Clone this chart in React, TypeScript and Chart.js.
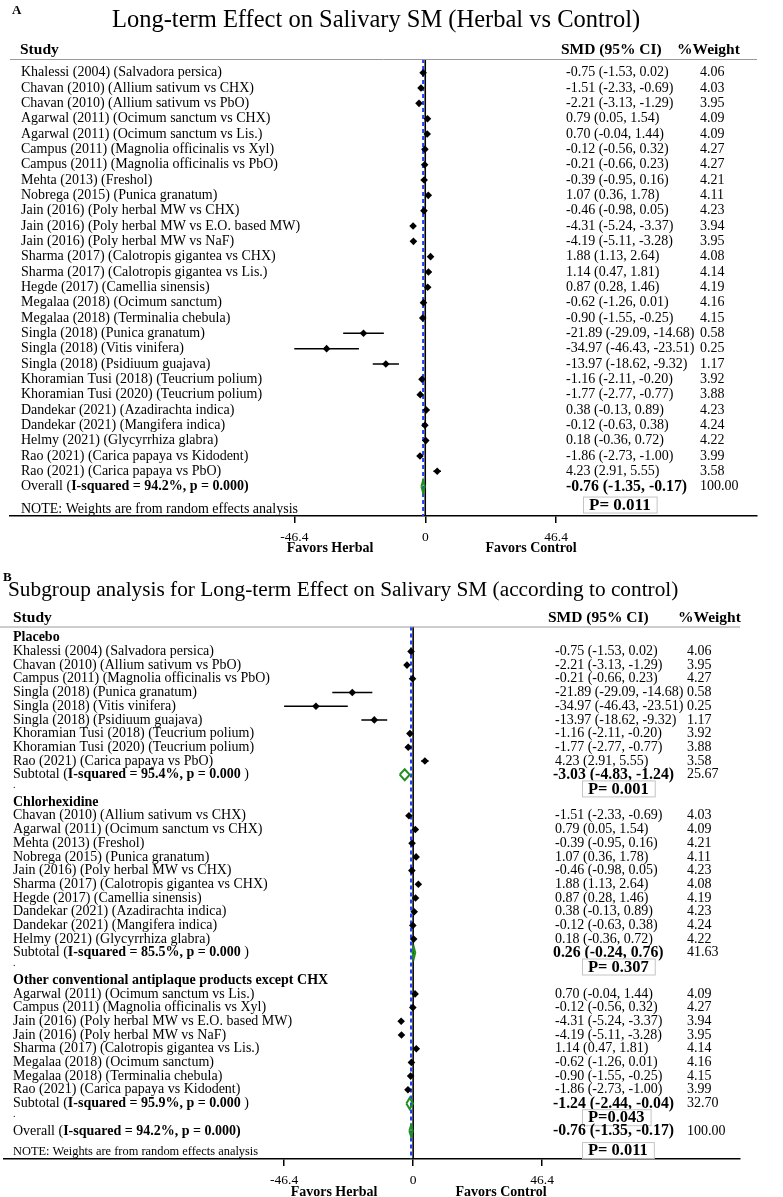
import React, { useEffect, useRef } from 'react';
import { Chart, registerables } from 'chart.js';

Chart.register(...registerables);

// ---------------- DATA ----------------
const STUDY_LABELS = [
  'Khalessi (2004) (Salvadora persica)',
  'Chavan (2010) (Allium sativum vs CHX)',
  'Chavan (2010) (Allium sativum vs PbO)',
  'Agarwal (2011) (Ocimum sanctum vs CHX)',
  'Agarwal (2011) (Ocimum sanctum vs Lis.)',
  'Campus (2011) (Magnolia officinalis vs Xyl)',
  'Campus (2011) (Magnolia officinalis vs PbO)',
  'Mehta (2013) (Freshol)',
  'Nobrega (2015) (Punica granatum)',
  'Jain (2016) (Poly herbal MW vs CHX)',
  'Jain (2016) (Poly herbal MW vs E.O. based MW)',
  'Jain (2016) (Poly herbal MW vs NaF)',
  'Sharma (2017) (Calotropis gigantea vs CHX)',
  'Sharma (2017) (Calotropis gigantea vs Lis.)',
  'Hegde (2017) (Camellia sinensis)',
  'Megalaa (2018) (Ocimum sanctum)',
  'Megalaa (2018) (Terminalia chebula)',
  'Singla (2018) (Punica granatum)',
  'Singla (2018) (Vitis vinifera)',
  'Singla (2018) (Psidiuum guajava)',
  'Khoramian Tusi (2018) (Teucrium polium)',
  'Khoramian Tusi (2020) (Teucrium polium)',
  'Dandekar (2021) (Azadirachta indica)',
  'Dandekar (2021) (Mangifera indica)',
  'Helmy (2021) (Glycyrrhiza glabra)',
  'Rao (2021) (Carica papaya vs Kidodent)',
  'Rao (2021) (Carica papaya vs PbO)',
];
const SMD = [-0.75, -1.51, -2.21, 0.79, 0.7, -0.12, -0.21, -0.39, 1.07, -0.46, -4.31, -4.19, 1.88, 1.14, 0.87, -0.62, -0.9, -21.89, -34.97, -13.97, -1.16, -1.77, 0.38, -0.12, 0.18, -1.86, 4.23];
const CI_LOW = [-1.53, -2.33, -3.13, 0.05, -0.04, -0.56, -0.66, -0.95, 0.36, -0.98, -5.24, -5.11, 1.13, 0.47, 0.28, -1.26, -1.55, -29.09, -46.43, -18.62, -2.11, -2.77, -0.13, -0.63, -0.36, -2.73, 2.91];
const CI_HIGH = [0.02, -0.69, -1.29, 1.54, 1.44, 0.32, 0.23, 0.16, 1.78, 0.05, -3.37, -3.28, 2.64, 1.81, 1.46, 0.01, -0.25, -14.68, -23.51, -9.32, -0.2, -0.77, 0.89, 0.38, 0.72, -1.0, 5.55];
const WEIGHT = [4.06, 4.03, 3.95, 4.09, 4.09, 4.27, 4.27, 4.21, 4.11, 4.23, 3.94, 3.95, 4.08, 4.14, 4.19, 4.16, 4.15, 0.58, 0.25, 1.17, 3.92, 3.88, 4.23, 4.24, 4.22, 3.99, 3.58];

const OVERALL_SMD = -0.76;
const OVERALL_LOW = -1.35;
const OVERALL_HIGH = -0.17;
const OVERALL_WEIGHT = 100.0;
const OVERALL_I2 = '94.2%';
const OVERALL_P_HET = '0.000';
const OVERALL_P_TEST = 'P= 0.011';

const GROUP_NAMES = ['Placebo', 'Chlorhexidine', 'Other conventional antiplaque products except CHX'];
const GROUP_MEMBERS = [
  [0, 2, 6, 17, 18, 19, 20, 21, 26],
  [1, 3, 7, 8, 9, 12, 14, 22, 23, 24],
  [4, 5, 10, 11, 13, 15, 16, 25],
];
const SUB_SMD = [-3.03, 0.26, -1.24];
const SUB_LOW = [-4.83, -0.24, -2.44];
const SUB_HIGH = [-1.24, 0.76, -0.04];
const SUB_WEIGHT = [25.67, 41.63, 32.7];
const SUB_I2 = ['95.4%', '85.5%', '95.9%'];
const SUB_P_HET = ['0.000', '0.000', '0.000'];
const SUB_P_TEST = ['P= 0.001', 'P= 0.307', 'P=0.043'];

const X_TICKS = [-46.4, 0, 46.4];
const X_MIN = -147.2;
const X_MAX = 117.6;

// ---------------- STYLE / LAYOUT ----------------
const SERIF = '"Liberation Serif", "Times New Roman", serif';
const GREEN = '#1f8f1f';
const BLUE = '#2040ff';
const DIAMOND_H = 0.4;
const ROW_FONT = 14;
const HEAD_FONT = 15.5;
const POOLED_FONT = 15.8;

type Row = { kind: 'study' | 'group' | 'sub' | 'gap' | 'overall'; i: number };

type Layout = {
  height: number; padLeft: number; padRight: number; areaTop: number; areaBottom: number;
  row0: number; pitch: number; axisH: number;
  labelX: number; headerX: number; headY: number; smdHeadX: number; weightHeadX: number;
  smdX: number; smdBoldX: number; weightX: number;
  pBoxX: number; pFont: number; pDy: number;
  noteFont: number; noteDy: number;
  favHerbX: number; favCtrlX: number; favY: number;
  letter: string; letterX: number; letterY: number;
  title: string; titleX: number; titleY: number; titleFont: number;
  headerLineLeft: number;
};

const LAYOUT_A: Layout = {
  height: 563, padLeft: 10, padRight: 26, areaTop: 59, areaBottom: 516,
  row0: 72.7, pitch: 15.33, axisH: 30,
  labelX: 21, headerX: 20, headY: 50, smdHeadX: 561, weightHeadX: 677,
  smdX: 566, smdBoldX: 566, weightX: 700,
  pBoxX: 583, pFont: 17, pDy: 1.17,
  noteFont: 14, noteDy: 1.5,
  favHerbX: 330, favCtrlX: 531, favY: 548,
  letter: 'A', letterX: 12, letterY: 11,
  title: 'Long-term Effect on Salivary SM (Herbal vs Control)', titleX: 112, titleY: 21, titleFont: 24.5,
  headerLineLeft: 10,
};

const LAYOUT_B: Layout = {
  height: 634, padLeft: 0, padRight: 43, areaTop: 63.5, areaBottom: 596,
  row0: 74.7, pitch: 13.7, axisH: 30,
  labelX: 13, headerX: 13, headY: 55, smdHeadX: 548, weightHeadX: 678,
  smdX: 555, smdBoldX: 553, weightX: 687,
  pBoxX: 582, pFont: 16.5, pDy: 1.4,
  noteFont: 12.4, noteDy: 1.54,
  favHerbX: 334, favCtrlX: 501, favY: 629,
  letter: 'B', letterX: 3, letterY: 15,
  title: 'Subgroup analysis for Long-term Effect on Salivary SM (according to control)', titleX: 8, titleY: 27, titleFont: 21.3,
  headerLineLeft: 0,
};

const ROWS_A: Row[] = [
  ...STUDY_LABELS.map((_, i) => ({ kind: 'study' as const, i })),
  { kind: 'overall', i: 0 },
];
const ROWS_B: Row[] = (() => {
  const r: Row[] = [];
  GROUP_NAMES.forEach((_, g) => {
    r.push({ kind: 'group', i: g });
    GROUP_MEMBERS[g].forEach((i) => r.push({ kind: 'study', i }));
    r.push({ kind: 'sub', i: g });
    r.push({ kind: 'gap', i: g });
  });
  r.push({ kind: 'overall', i: 0 });
  return r;
})();

const font = (size: number, bold = false) => `${bold ? 'bold ' : ''}${size}px ${SERIF}`;
const fmt = (v: number) => v.toFixed(2);
const ciText = (es: number, lo: number, hi: number) => `${fmt(es)} (${fmt(lo)}, ${fmt(hi)})`;

function buildDatasets(rows: Row[], yMin: number, yMax: number) {
  const ci: any[] = [];
  const pts: any[] = [];
  const dia: any[] = [];
  rows.forEach((r, k) => {
    if (r.kind === 'study') {
      ci.push({ x: CI_LOW[r.i], y: k }, { x: CI_HIGH[r.i], y: k }, { x: null, y: null });
      pts.push({ x: SMD[r.i], y: k });
    } else if (r.kind === 'sub' || r.kind === 'overall') {
      const es = r.kind === 'sub' ? SUB_SMD[r.i] : OVERALL_SMD;
      const lo = r.kind === 'sub' ? SUB_LOW[r.i] : OVERALL_LOW;
      const hi = r.kind === 'sub' ? SUB_HIGH[r.i] : OVERALL_HIGH;
      dia.push(
        { x: lo, y: k }, { x: es, y: k - DIAMOND_H }, { x: hi, y: k }, { x: es, y: k + DIAMOND_H }, { x: lo, y: k },
        { x: null, y: null },
      );
    }
  });
  return [
    { data: pts, showLine: false, pointStyle: 'rectRot', pointRadius: 3.8, backgroundColor: '#000', borderWidth: 0 },
    { data: ci, showLine: true, borderColor: '#000', borderWidth: 1.5, pointRadius: 0, spanGaps: false },
    { data: dia, showLine: true, borderColor: GREEN, borderWidth: 2, pointRadius: 0, spanGaps: false, borderJoinStyle: 'miter' },
    { data: [{ x: 0, y: yMin }, { x: 0, y: yMax }], showLine: true, borderColor: '#000', borderWidth: 1.6, pointRadius: 0 },
    { data: [{ x: OVERALL_SMD, y: yMin }, { x: OVERALL_SMD, y: yMax }], showLine: true, borderColor: BLUE, borderDash: [4, 3], borderWidth: 2, pointRadius: 0 },
  ];
}

function makeTextPlugin(L: Layout, rows: Row[]) {
  return {
    id: 'forestText',
    afterDraw(chart: any) {
      const { ctx, chartArea } = chart;
      const y = chart.scales.y;
      ctx.save();
      ctx.textBaseline = 'middle';
      ctx.fillStyle = '#000';
      const text = (s: string, x: number, py: number, f: string, align: CanvasTextAlign = 'left') => {
        ctx.font = f;
        ctx.textAlign = align;
        ctx.fillText(s, x, py);
        return ctx.measureText(s).width;
      };
      const pBox = (s: string, py: number) => {
        ctx.font = font(L.pFont, true);
        const w = ctx.measureText(s).width + 12;
        const h = 16;
        ctx.fillStyle = '#fff';
        ctx.fillRect(L.pBoxX, py - h / 2, w, h);
        ctx.strokeStyle = '#c4c4c4';
        ctx.lineWidth = 1;
        ctx.strokeRect(L.pBoxX + 0.5, py - h / 2 + 0.5, w, h);
        ctx.fillStyle = '#000';
        text(s, L.pBoxX + w / 2, py + 1, font(L.pFont, true), 'center');
      };

      // header line
      ctx.strokeStyle = '#9a9a9a';
      ctx.lineWidth = 1;
      ctx.beginPath();
      ctx.moveTo(L.headerLineLeft, chartArea.top + 0.5);
      ctx.lineTo(chartArea.right, chartArea.top + 0.5);
      ctx.stroke();

      text(L.letter, L.letterX, L.letterY, font(13, true));
      text(L.title, L.titleX, L.titleY, font(L.titleFont));
      text('Study', L.headerX, L.headY, font(HEAD_FONT, true));
      text('SMD (95% CI)', L.smdHeadX, L.headY, font(HEAD_FONT, true));
      text('%Weight', L.weightHeadX, L.headY, font(HEAD_FONT, true));

      rows.forEach((r, k) => {
        const py = y.getPixelForValue(k);
        if (r.kind === 'study') {
          text(STUDY_LABELS[r.i], L.labelX, py, font(ROW_FONT));
          text(ciText(SMD[r.i], CI_LOW[r.i], CI_HIGH[r.i]), L.smdX, py, font(ROW_FONT));
          text(fmt(WEIGHT[r.i]), L.weightX, py, font(ROW_FONT));
        } else if (r.kind === 'group') {
          text(GROUP_NAMES[r.i], L.labelX, py, font(ROW_FONT, true));
        } else if (r.kind === 'sub') {
          let x = L.labelX;
          x += text('Subtotal (', x, py, font(ROW_FONT));
          x += text(`I-squared = ${SUB_I2[r.i]}, p = ${SUB_P_HET[r.i]}`, x, py, font(ROW_FONT, true));
          text(' )', x, py, font(ROW_FONT));
          text(ciText(SUB_SMD[r.i], SUB_LOW[r.i], SUB_HIGH[r.i]), L.smdBoldX, py, font(POOLED_FONT, true));
          text(fmt(SUB_WEIGHT[r.i]), L.weightX, py, font(ROW_FONT));
        } else if (r.kind === 'gap') {
          text('.', L.labelX, py - 3, font(10));
          pBox(SUB_P_TEST[r.i], py);
        } else if (r.kind === 'overall') {
          let x = L.labelX;
          x += text('Overall (', x, py, font(ROW_FONT));
          text(`I-squared = ${OVERALL_I2}, p = ${OVERALL_P_HET})`, x, py, font(ROW_FONT, true));
          text(ciText(OVERALL_SMD, OVERALL_LOW, OVERALL_HIGH), L.smdBoldX, py, font(POOLED_FONT, true));
          text(fmt(OVERALL_WEIGHT), L.weightX, py, font(ROW_FONT));
          text('NOTE: Weights are from random effects analysis', L.labelX, y.getPixelForValue(k + L.noteDy), font(L.noteFont));
          pBox(OVERALL_P_TEST, y.getPixelForValue(k + L.pDy));
        }
      });

      text('Favors Herbal', L.favHerbX, L.favY, font(14, true), 'center');
      text('Favors Control', L.favCtrlX, L.favY, font(14, true), 'center');
      ctx.restore();
    },
  };
}

function makeConfig(L: Layout, rows: Row[]): any {
  const yMin = (L.areaTop - L.row0) / L.pitch;
  const yMax = (L.areaBottom - L.row0) / L.pitch;
  return {
    type: 'scatter',
    data: { datasets: buildDatasets(rows, yMin, yMax) },
    options: {
      animation: false,
      responsive: false,
      maintainAspectRatio: false,
      devicePixelRatio: 1,
      events: [],
      layout: {
        padding: {
          top: L.areaTop,
          left: L.padLeft,
          right: L.padRight,
          bottom: L.height - L.areaBottom - L.axisH,
        },
      },
      plugins: { legend: { display: false }, tooltip: { enabled: false } },
      scales: {
        x: {
          type: 'linear',
          min: X_MIN,
          max: X_MAX,
          afterBuildTicks: (s: any) => {
            s.ticks = X_TICKS.map((v) => ({ value: v }));
          },
          afterFit: (s: any) => {
            s.height = L.axisH;
          },
          ticks: {
            callback: (v: any) => String(v),
            font: { family: SERIF, size: 13.5 },
            color: '#000',
            padding: 6,
            maxRotation: 0,
            autoSkip: false,
          },
          grid: { display: true, drawOnChartArea: false, drawTicks: true, tickLength: 7, color: '#000', lineWidth: 1.5 },
          border: { display: true, color: '#000', width: 1.5 },
        },
        y: {
          type: 'linear',
          display: false,
          reverse: true,
          min: yMin,
          max: yMax,
        },
      },
    },
    plugins: [makeTextPlugin(L, rows)],
  };
}

function ForestPanel({ layout, rows }: { layout: Layout; rows: Row[] }) {
  const ref = useRef<HTMLCanvasElement | null>(null);
  useEffect(() => {
    if (!ref.current) return;
    const chart = new Chart(ref.current, makeConfig(layout, rows));
    return () => chart.destroy();
  }, [layout, rows]);
  return <canvas ref={ref} width={783} height={layout.height} style={{ display: 'block', width: 783, height: layout.height }} />;
}

export default function App() {
  return (
    <div style={{ position: 'absolute', left: 0, top: 0, width: 783, height: 1197, background: '#fff' }}>
      <ForestPanel layout={LAYOUT_A} rows={ROWS_A} />
      <ForestPanel layout={LAYOUT_B} rows={ROWS_B} />
    </div>
  );
}
